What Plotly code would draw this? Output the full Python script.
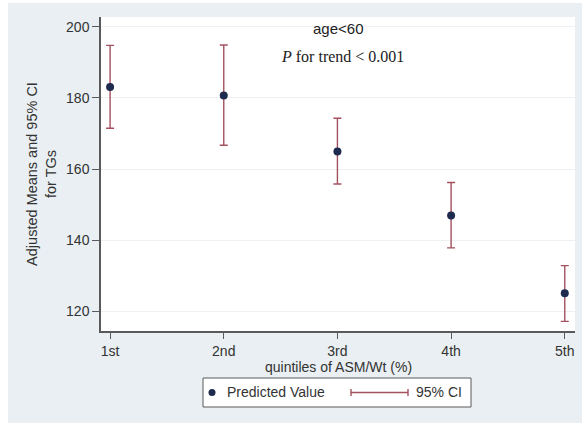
import plotly.graph_objects as go

categories = ["1st", "2nd", "3rd", "4th", "5th"]
x_pos = [1, 2, 3, 4, 5]
means = [183.1, 180.7, 164.9, 146.9, 125.0]
ci_upper = [194.8, 194.9, 174.3, 156.2, 132.8]
ci_lower = [171.5, 166.7, 155.8, 137.8, 117.1]
y_ticks = [120, 140, 160, 180, 200]
legend_labels = ["Predicted Value", "95% CI"]

err_plus = [u - m for u, m in zip(ci_upper, means)]
err_minus = [m - l for m, l in zip(means, ci_lower)]

NAVY = "#1e2b4f"
MAROON = "#a4515f"
AXIS = "#5a5a5a"
TXT = "#333333"
BG = "#e9eff2"

# layout geometry (pixels)
W, H = 584, 425
ML, MR, MT, MB = 101, 9, 17, 94
PW, PH = W - ML - MR, H - MT - MB


def px_x(p):
    return (p - ML) / PW


def px_y(p):
    return (H - MB - p) / PH


fig = go.Figure()
fig.add_trace(go.Scatter(
    x=x_pos, y=means, mode="markers", name=legend_labels[0],
    marker=dict(color=NAVY, size=8),
    error_y=dict(type="data", symmetric=False, array=err_plus, arrayminus=err_minus,
                 color=MAROON, thickness=1.4, width=4),
    showlegend=False,
))

shapes = [
    # outer panel background
    dict(type="rect", xref="paper", yref="paper", layer="below",
         x0=px_x(8), x1=px_x(582), y0=px_y(423), y1=px_y(3),
         fillcolor=BG, line=dict(width=0)),
    # plot area
    dict(type="rect", xref="paper", yref="paper", layer="below",
         x0=0, x1=1, y0=0, y1=1, fillcolor="white", line=dict(width=0)),
    # legend box
    dict(type="rect", xref="paper", yref="paper",
         x0=px_x(203), x1=px_x(471), y0=px_y(407), y1=px_y(378),
         fillcolor="white", line=dict(color=AXIS, width=1)),
    # legend marker
    dict(type="circle", xref="paper", yref="paper",
         x0=px_x(208.5), x1=px_x(215.5), y0=px_y(396), y1=px_y(389),
         fillcolor=NAVY, line=dict(width=0)),
    # legend CI line and caps
    dict(type="line", xref="paper", yref="paper",
         x0=px_x(351), x1=px_x(408), y0=px_y(392.5), y1=px_y(392.5),
         line=dict(color=MAROON, width=1.4)),
    dict(type="line", xref="paper", yref="paper",
         x0=px_x(351), x1=px_x(351), y0=px_y(389), y1=px_y(396),
         line=dict(color=MAROON, width=1.4)),
    dict(type="line", xref="paper", yref="paper",
         x0=px_x(408), x1=px_x(408), y0=px_y(389), y1=px_y(396),
         line=dict(color=MAROON, width=1.4)),
]

annotations = [
    dict(text="age<60", x=0.5, y=px_y(28), xref="paper", yref="paper",
         showarrow=False, font=dict(size=15, color="#222222"), yanchor="middle"),
    dict(text="<i>P</i> for trend < 0.001", x=0.51, y=px_y(57), xref="paper", yref="paper",
         showarrow=False, font=dict(family="Liberation Serif, Times New Roman", size=16, color="#222222"),
         yanchor="middle"),
    dict(text="quintiles of ASM/Wt (%)", x=0.5, y=px_y(367), xref="paper", yref="paper",
         showarrow=False, font=dict(size=14, color=TXT), yanchor="middle"),
    dict(text=legend_labels[0], x=px_x(225), y=px_y(392.5), xref="paper", yref="paper",
         showarrow=False, xanchor="left", yanchor="middle", font=dict(size=14, color=TXT)),
    dict(text=legend_labels[1], x=px_x(414), y=px_y(392.5), xref="paper", yref="paper",
         showarrow=False, xanchor="left", yanchor="middle", font=dict(size=14, color=TXT)),
]

fig.update_layout(
    width=W, height=H,
    margin=dict(l=ML, r=MR, t=MT, b=MB),
    paper_bgcolor="white", plot_bgcolor="white",
    font=dict(family="Liberation Sans, Arial", size=14, color=TXT),
    showlegend=False,
    shapes=shapes,
    annotations=annotations,
)
fig.update_xaxes(
    range=[0.92, 5.09], tickvals=x_pos, ticktext=categories,
    showline=True, linecolor=AXIS, linewidth=1.5, mirror=False,
    ticks="outside", ticklen=6, tickcolor=AXIS, showgrid=False, zeroline=False,
)
fig.update_yaxes(
    range=[114.4, 202.8], tickvals=y_ticks,
    showline=True, linecolor=AXIS, linewidth=1.5,
    ticks="outside", ticklen=7, tickcolor=AXIS,
    showgrid=True, gridcolor="#eef1f3", gridwidth=1, zeroline=False,
    title=dict(text="Adjusted Means and 95% CI<br>for TGs", standoff=6, font=dict(size=14.5)),
)

fig.write_html("out.html")
